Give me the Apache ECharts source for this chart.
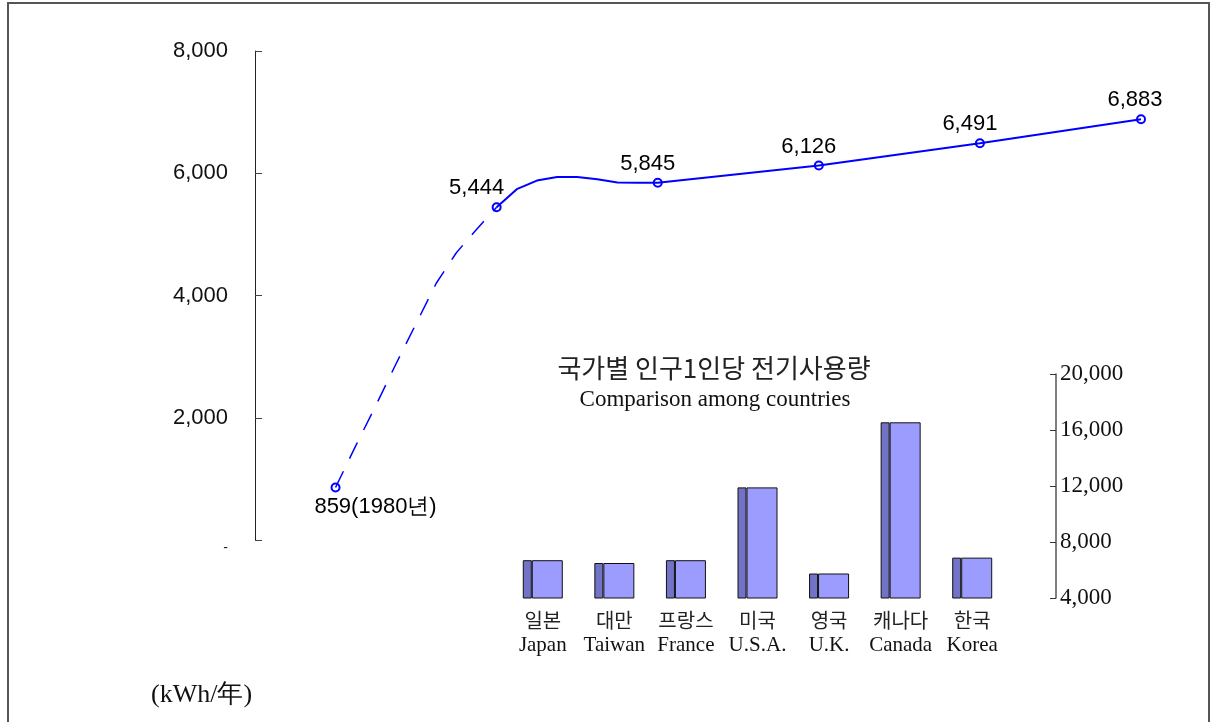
<!DOCTYPE html>
<html>
<head>
<meta charset="utf-8">
<script src="https://cdn.jsdelivr.net/npm/echarts@6/dist/echarts.min.js"></script>
<style>
html,body{margin:0;padding:0;background:#fff;}
#chart{width:1211px;height:722px;}
</style>
</head>
<body>
<div id="chart"></div>
<script>
// ---- main line (kWh per person), x = step index ----
const dashedIdx = [0, 1, 2, 3, 4, 5, 6, 7, 8];
const dashedValues = [859, 1540, 2200, 2880, 3540, 4200, 4700, 5080, 5444];
const solidIdx = [8, 9, 10, 11, 12, 13, 14, 15, 16, 24, 32, 40];
const solidValues = [5444, 5740, 5880, 5940, 5940, 5900, 5850, 5845, 5845, 6126, 6491, 6883];
const markIdx = [0, 8, 16, 24, 32, 40];
const markValues = [859, 5444, 5845, 6126, 6491, 6883];
const firstSuffix = '(1980년)';
const leftTicks = [0, 2000, 4000, 6000, 8000];

// ---- inset bar chart ----
const barCatKo = ['일본', '대만', '프랑스', '미국', '영국', '캐나다', '한국'];
const barCatEn = ['Japan', 'Taiwan', 'France', 'U.S.A.', 'U.K.', 'Canada', 'Korea'];
const barValues = [6700, 6500, 6700, 11900, 5750, 16550, 6883];
const rightTicks = [4000, 8000, 12000, 16000, 20000];

const insetTitle = '국가별 인구1인당 전기사용량';
const insetSubtitle = 'Comparison among countries';
const unitText = '(kWh/年)';

const fmt = v => v.toLocaleString('en-US');
const blue = '#0000ff';

const chart = echarts.init(document.getElementById('chart'));
chart.setOption({
  animation: false,
  backgroundColor: '#fff',
  grid: [
    {left: 255, right: 70, top: 51, bottom: 182},
    {left: 507, right: 203, top: 374, bottom: 124},
    {left: 900, right: 155, top: 374, bottom: 124}
  ],
  xAxis: [
    {gridIndex: 0, type: 'value', min: -4, max: 40, show: false},
    {gridIndex: 1, type: 'category', data: barCatKo.map((k, i) => k + '\n' + barCatEn[i]),
     axisLine: {show: false}, axisTick: {show: false},
     axisLabel: {margin: 10, interval: 0,
       formatter: v => { const p = v.split('\n'); return '{ko|' + p[0] + '}\n{en|' + p[1] + '}'; },
       rich: {
         ko: {fontFamily: 'Noto Sans CJK KR', fontSize: 20, color: '#222', lineHeight: 24},
         en: {fontFamily: 'Liberation Serif', fontSize: 21, color: '#111', lineHeight: 26}
       }}},
    {gridIndex: 2, type: 'category', data: [''], show: false}
  ],
  yAxis: [
    {gridIndex: 0, type: 'value', min: 0, max: 8000, interval: 2000,
     splitLine: {show: false},
     axisLine: {show: true, onZero: false, lineStyle: {color: '#222', width: 1}},
     axisTick: {show: true, inside: true, length: 7, lineStyle: {color: '#444'}},
     axisLabel: {margin: 27, color: '#111', fontFamily: 'Liberation Sans', fontSize: 22,
       formatter: v => v === 0 ? '{z|-}' : fmt(v),
       rich: {z: {fontFamily: 'Liberation Sans', fontSize: 14, color: '#222', padding: [16, 0, 0, 0]}}}},
    {gridIndex: 1, type: 'value', min: 4000, max: 20000, interval: 4000, show: false},
    {gridIndex: 2, type: 'value', min: 4000, max: 20000, interval: 4000, position: 'right',
     splitLine: {show: false},
     axisLine: {show: true, lineStyle: {color: '#555', width: 1.5}},
     axisTick: {show: true, inside: true, length: 6, lineStyle: {color: '#333'}},
     axisLabel: {margin: 4, color: '#111', fontFamily: 'Liberation Serif', fontSize: 23, formatter: v => fmt(v)}}
  ],
  title: [
    {text: insetTitle, left: 709, top: 350, textAlign: 'center',
     textStyle: {fontFamily: 'Noto Sans CJK KR', fontSize: 26, fontWeight: 'normal', color: '#222'}},
    {text: insetSubtitle, left: 710, top: 383, textAlign: 'center',
     textStyle: {fontFamily: 'Liberation Serif', fontSize: 23, fontWeight: 'normal', color: '#111'}},
    {text: unitText, left: 146, top: 677,
     textStyle: {fontFamily: 'Liberation Serif', fontSize: 26, fontWeight: 'normal', color: '#111'}}
  ],
  graphic: [
    {type: 'rect', shape: {x: 8, y: 3, width: 1201, height: 740}, silent: true,
     style: {fill: 'none', stroke: '#555', lineWidth: 2}}
  ],
  series: [
    {type: 'line', xAxisIndex: 0, yAxisIndex: 0, symbol: 'none',
     data: dashedIdx.map((x, i) => [x, dashedValues[i]]),
     lineStyle: {color: blue, width: 1.5, type: [18, 14]}},
    {type: 'line', xAxisIndex: 0, yAxisIndex: 0, symbol: 'none',
     data: solidIdx.map((x, i) => [x, solidValues[i]]),
     lineStyle: {color: blue, width: 2}},
    {type: 'scatter', xAxisIndex: 0, yAxisIndex: 0, symbol: 'circle', symbolSize: 8,
     itemStyle: {color: '#fff', borderColor: blue, borderWidth: 2, opacity: 1},
     data: markIdx.map((x, i) => ({
       value: [x, markValues[i]],
       label: i === 0
         ? {position: 'bottom', distance: 3, offset: [40, 0]}
         : {position: 'top', distance: 3, offset: [i === 1 ? -20 : (i === 5 ? -6 : -10), 0]}
     })),
     label: {show: true, color: '#000', fontFamily: 'Liberation Sans', fontSize: 22,
       formatter: p => p.dataIndex === 0 ? fmt(p.value[1]) + firstSuffix : fmt(p.value[1])}},
    // 3D-look bars: dark side face + light front face
    {type: 'bar', xAxisIndex: 1, yAxisIndex: 1, barWidth: 9, barGap: '0%',
     data: barValues,
     itemStyle: {color: '#7272c6', borderColor: '#111', borderWidth: 1}},
    {type: 'bar', xAxisIndex: 1, yAxisIndex: 1, barWidth: 31, barGap: '0%',
     data: barValues,
     itemStyle: {color: '#9c9cff', borderColor: '#111', borderWidth: 1}}
  ]
});
</script>
</body>
</html>
